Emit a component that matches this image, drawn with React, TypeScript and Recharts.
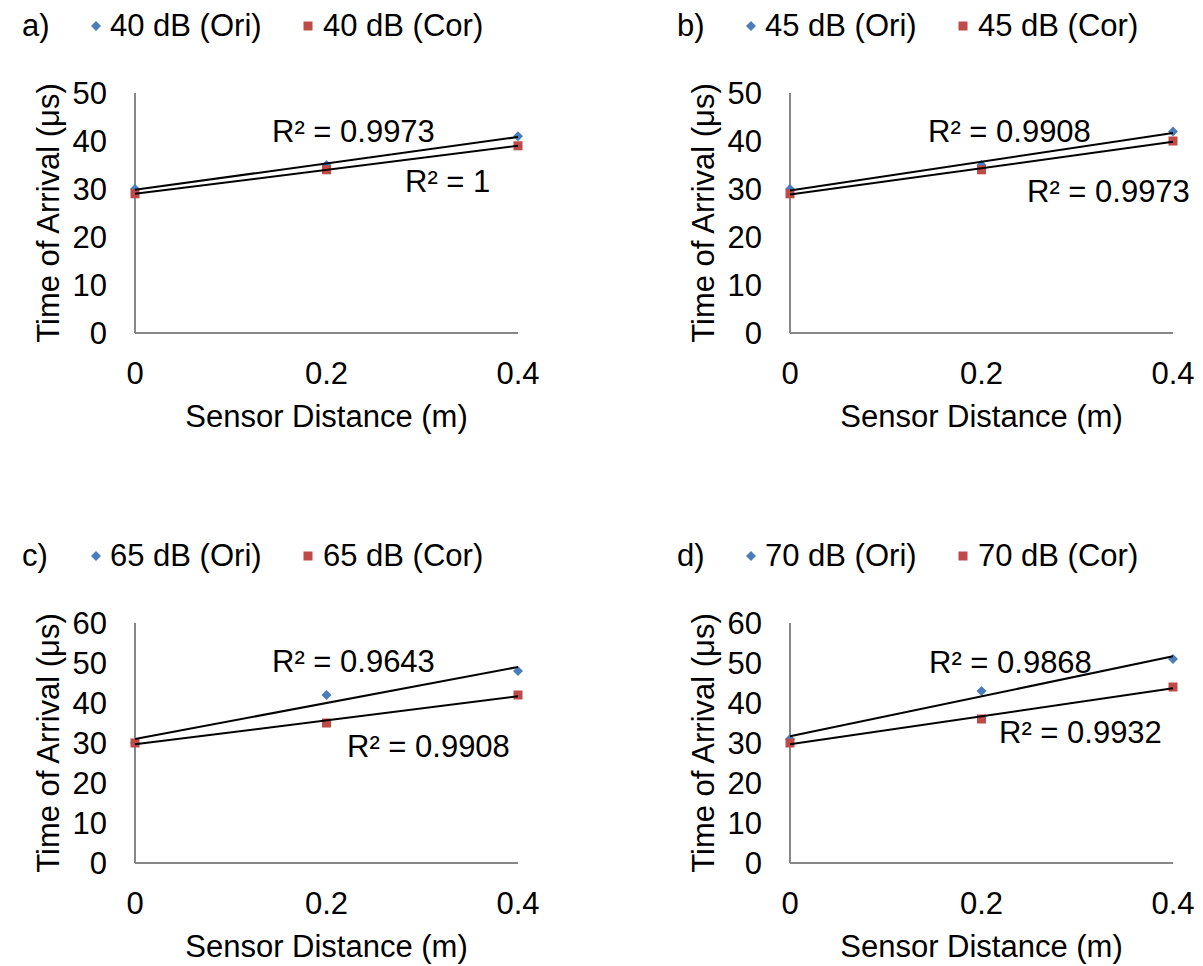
import { Scatter, ScatterChart, XAxis, YAxis } from "recharts";

const distances = [0, 0.2, 0.4];
const xTicks = [0, 0.2, 0.4];
const yTicks50 = [0, 10, 20, 30, 40, 50];
const yTicks60 = [0, 10, 20, 30, 40, 50, 60];

const ori40 = [30, 35, 41];
const cor40 = [29, 34, 39];
const ori45 = [30, 35, 42];
const cor45 = [29, 34, 40];
const ori65 = [30, 42, 48];
const cor65 = [30, 35, 42];
const ori70 = [31, 43, 51];
const cor70 = [30, 36, 44];

const FONT = '"Liberation Sans", Arial, sans-serif';
const BLUE = "#4a7ebb";
const RED = "#be4b48";
const AXIS = "#878787";
const FS = 31;

// least squares line, like excel's linear trendline
function fit(xs: number[], ys: number[]) {
  const n = xs.length;
  const mx = xs.reduce((a, b) => a + b, 0) / n;
  const my = ys.reduce((a, b) => a + b, 0) / n;
  let sxy = 0, sxx = 0, syy = 0;
  xs.forEach((x, i) => {
    sxy += (x - mx) * (ys[i] - my);
    sxx += (x - mx) ** 2;
    syy += (ys[i] - my) ** 2;
  });
  const slope = sxy / sxx;
  const icpt = my - slope * mx;
  const r2 = (sxy * sxy) / (sxx * syy);
  return { slope, icpt, r2 };
}

const toPoints = (ys: number[]) => distances.map((x, i) => ({ x, y: ys[i] }));

function Diamond(props: any) {
  const { cx, cy } = props;
  return <polygon points={`${cx},${cy - 5} ${cx + 5},${cy} ${cx},${cy + 5} ${cx - 5},${cy}`} fill={BLUE} />;
}

function Square(props: any) {
  const { cx, cy } = props;
  return <rect x={cx - 4.5} y={cy - 4.5} width={9} height={9} fill={RED} />;
}

const NoMark = () => <g />;

interface PanelProps {
  tag: string;
  level: string;
  ori: number[];
  cor: number[];
  yTicks: number[];
  left: number;
  top: number;
  oriLabel: [number, number];
  corLabel: [number, number];
}

function Panel({ tag, level, ori, cor, yTicks, left, top, oriLabel, corLabel }: PanelProps) {
  const fo = fit(distances, ori);
  const fc = fit(distances, cor);
  const x0 = distances[0];
  const x1 = distances[distances.length - 1];
  const trendO = [{ x: x0, y: fo.icpt + fo.slope * x0 }, { x: x1, y: fo.icpt + fo.slope * x1 }];
  const trendC = [{ x: x0, y: fc.icpt + fc.slope * x0 }, { x: x1, y: fc.icpt + fc.slope * x1 }];
  const fmt = (r: number) => `R² = ${Number(r.toFixed(4)).toString()}`;
  const textStyle = { position: "absolute" as const, fontSize: FS, lineHeight: `${FS}px`, whiteSpace: "nowrap" as const, color: "#000" };

  return (
    <div style={{ position: "absolute", left, top, width: 560, height: 440 }}>
      <ScatterChart width={560} height={440} margin={{ top: 93, left: 35, right: 42, bottom: 17 }}>
        <XAxis
          type="number"
          dataKey="x"
          domain={[0, 0.4]}
          ticks={xTicks}
          interval={0}
          tickLine={false}
          tickSize={0}
          tickMargin={29}
          height={90}
          axisLine={{ stroke: AXIS, strokeWidth: 2 }}
          tick={{ fill: "#000", fontSize: FS, fontFamily: FONT }}
          label={{ value: "Sensor Distance (m)", position: "insideBottom", offset: -4, fill: "#000", fontSize: FS, fontFamily: FONT }}
        />
        <YAxis
          type="number"
          dataKey="y"
          domain={[0, yTicks[yTicks.length - 1]]}
          ticks={yTicks}
          interval={0}
          tickLine={false}
          tickSize={0}
          tickMargin={28}
          width={100}
          axisLine={{ stroke: AXIS, strokeWidth: 2 }}
          tick={{ fill: "#000", fontSize: FS, fontFamily: FONT }}
          label={{ value: "Time of Arrival (μs)", angle: -90, position: "insideLeft", offset: 13, fill: "#000", fontSize: FS, fontFamily: FONT, style: { textAnchor: "middle" } }}
        />
        <Scatter data={toPoints(ori)} shape={<Diamond />} isAnimationActive={false} />
        <Scatter data={toPoints(cor)} shape={<Square />} isAnimationActive={false} />
        <Scatter data={trendO} shape={NoMark} line={{ stroke: "#000", strokeWidth: 2 }} isAnimationActive={false} />
        <Scatter data={trendC} shape={NoMark} line={{ stroke: "#000", strokeWidth: 2 }} isAnimationActive={false} />
      </ScatterChart>

      <div style={{ ...textStyle, left: 22, top: 10 }}>{tag}</div>
      <svg style={{ position: "absolute", left: 90, top: 20 }} width={12} height={12}>
        <polygon points="6,1 11,6 6,11 1,6" fill={BLUE} />
      </svg>
      <div style={{ ...textStyle, left: 110, top: 10 }}>{`${level} (Ori)`}</div>
      <svg style={{ position: "absolute", left: 302, top: 20 }} width={12} height={12}>
        <rect x={1.5} y={1.5} width={9} height={9} fill={RED} />
      </svg>
      <div style={{ ...textStyle, left: 323, top: 10 }}>{`${level} (Cor)`}</div>

      <div style={{ ...textStyle, left: oriLabel[0], top: oriLabel[1] }}>{fmt(fo.r2)}</div>
      <div style={{ ...textStyle, left: corLabel[0], top: corLabel[1] }}>{fmt(fc.r2)}</div>
    </div>
  );
}

export default function App() {
  return (
    <div style={{ position: "absolute", left: 0, top: 0, width: 1203, height: 966, background: "#fff", fontFamily: FONT }}>
      <Panel tag="a)" level="40 dB" ori={ori40} cor={cor40} yTicks={yTicks50} left={0} top={0} oriLabel={[272, 116]} corLabel={[405, 166]} />
      <Panel tag="b)" level="45 dB" ori={ori45} cor={cor45} yTicks={yTicks50} left={655} top={0} oriLabel={[273, 116]} corLabel={[372, 176]} />
      <Panel tag="c)" level="65 dB" ori={ori65} cor={cor65} yTicks={yTicks60} left={0} top={530} oriLabel={[272, 116]} corLabel={[347, 201]} />
      <Panel tag="d)" level="70 dB" ori={ori70} cor={cor70} yTicks={yTicks60} left={655} top={530} oriLabel={[274, 117]} corLabel={[344, 187]} />
    </div>
  );
}
